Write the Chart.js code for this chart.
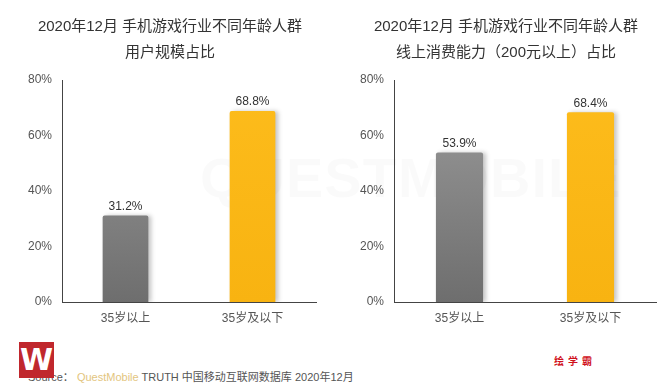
<!DOCTYPE html>
<html>
<head>
<meta charset="utf-8">
<script src="https://cdn.jsdelivr.net/npm/chart.js@4.4.1/dist/chart.umd.min.js"></script>
<style>
  html, body { margin: 0; padding: 0; background: #fff; }
  body { width: 672px; height: 391px; position: relative; overflow: hidden;
         font-family: "Liberation Sans", "Noto Sans CJK SC", sans-serif; }
  .wm { position: absolute; left: 200px; top: 145px; font-size: 56px; font-weight: bold;
        color: rgba(0,0,0,0.02); letter-spacing: 1px; white-space: nowrap; }
  .box { position: absolute; top: 0; width: 336px; height: 340px; }
  .title { position: absolute; top: 13px; width: 336px; text-align: center; color: #333;
           font-size: 15px; line-height: 26px; font-family: "Liberation Sans", "Noto Sans CJK SC", sans-serif; }
  .src { position: absolute; left: 28px; top: 369px; font-size: 11px; color: #555; white-space: nowrap;
         line-height: 16px; }
  .src .qm { color: #e3c57e; }
  .logo { position: absolute; left: 19px; top: 342px; width: 35px; height: 36px; background: #c0272d;
          color: #fff; font-weight: bold; font-size: 30px; line-height: 36px; text-align: center;
          font-family: "DejaVu Sans", sans-serif; }
  .brand { position: absolute; left: 554px; top: 353px; font-size: 10px; font-weight: bold; color: #d0101b;
           letter-spacing: 4px; font-family: "Noto Sans CJK SC", sans-serif; }
</style>
</head>
<body>
<div class="wm">QUESTMOBILE</div>
<div class="box" style="left:0"><canvas id="c1" width="336" height="340"></canvas></div>
<div class="box" style="left:336px"><canvas id="c2" width="336" height="340"></canvas></div>
<div class="title" style="left:2px">2020年12月 手机游戏行业不同年龄人群<br>用户规模占比</div>
<div class="title" style="left:338px">2020年12月 手机游戏行业不同年龄人群<br>线上消费能力（200元以上）占比</div>
<div class="src">Source： <span class="qm">QuestMobile</span> TRUTH 中国移动互联网数据库 2020年12月</div>
<div class="logo">W</div>
<div class="brand">绘学霸</div>
<script>
const categories = ['35岁以上', '35岁及以下'];
const userShare = [31.2, 68.8];
const spendShare = [53.9, 68.4];
const yTicks = [0, 20, 40, 60, 80];

const FONT = '"Liberation Sans", "Noto Sans CJK SC", sans-serif';

function barFill(ctx) {
  const chart = ctx.chart;
  const area = chart.chartArea;
  const gray = ctx.dataIndex === 0;
  if (!area) return gray ? '#808080' : '#fbb913';
  const g = chart.ctx.createLinearGradient(0, area.bottom, 0, area.top);
  if (gray) { g.addColorStop(0, '#6e6e6e'); g.addColorStop(1, '#9c9c9c'); }
  else { g.addColorStop(0, '#f8b311'); g.addColorStop(1, '#fdbc1c'); }
  return g;
}

const shadowPlugin = {
  id: 'barShadow',
  beforeDatasetDraw(chart) {
    const c = chart.ctx; c.save();
    c.shadowColor = 'rgba(0,0,0,0.22)'; c.shadowBlur = 4; c.shadowOffsetX = 3; c.shadowOffsetY = 0;
  },
  afterDatasetDraw(chart) { chart.ctx.restore(); }
};

const labelPlugin = {
  id: 'valueLabels',
  afterDatasetsDraw(chart) {
    const c = chart.ctx;
    const ds = chart.data.datasets[0];
    chart.getDatasetMeta(0).data.forEach((el, i) => {
      c.save();
      c.font = '12px ' + FONT;
      c.fillStyle = '#333';
      c.textAlign = 'center';
      c.textBaseline = 'bottom';
      c.fillText(ds.data[i].toFixed(1) + '%', el.x, el.y - 3);
      c.restore();
    });
  }
};

function makeChart(id, values, yWidth, padRight) {
  return new Chart(document.getElementById(id), {
    type: 'bar',
    data: {
      labels: categories,
      datasets: [{
        data: values,
        backgroundColor: barFill,
        borderRadius: 2,
        borderSkipped: 'bottom',
        categoryPercentage: 1,
        barPercentage: 0.36
      }]
    },
    options: {
      responsive: false,
      animation: false,
      events: [],
      layout: { padding: { top: 80, right: padRight, left: 0, bottom: 0 } },
      plugins: { legend: { display: false }, tooltip: { enabled: false }, title: { display: false } },
      scales: {
        x: {
          grid: { display: false, drawTicks: false },
          border: { display: true, color: '#444', width: 1 },
          ticks: { color: '#555', font: { size: 12, family: FONT }, padding: 9 },
          afterFit(s) { s.height = 38; }
        },
        y: {
          min: 0, max: 80,
          afterBuildTicks(s) { s.ticks = yTicks.map(v => ({ value: v })); },
          grid: { display: false, drawTicks: false },
          border: { display: true, color: '#444', width: 1 },
          ticks: { color: '#555', font: { size: 12, family: FONT }, padding: 10,
                   callback: v => v + '%' },
          afterFit(s) { s.width = yWidth; }
        }
      }
    },
    plugins: [shadowPlugin, labelPlugin]
  });
}

makeChart('c1', userShare, 62, 20);
makeChart('c2', spendShare, 58, 16);
</script>
</body>
</html>
